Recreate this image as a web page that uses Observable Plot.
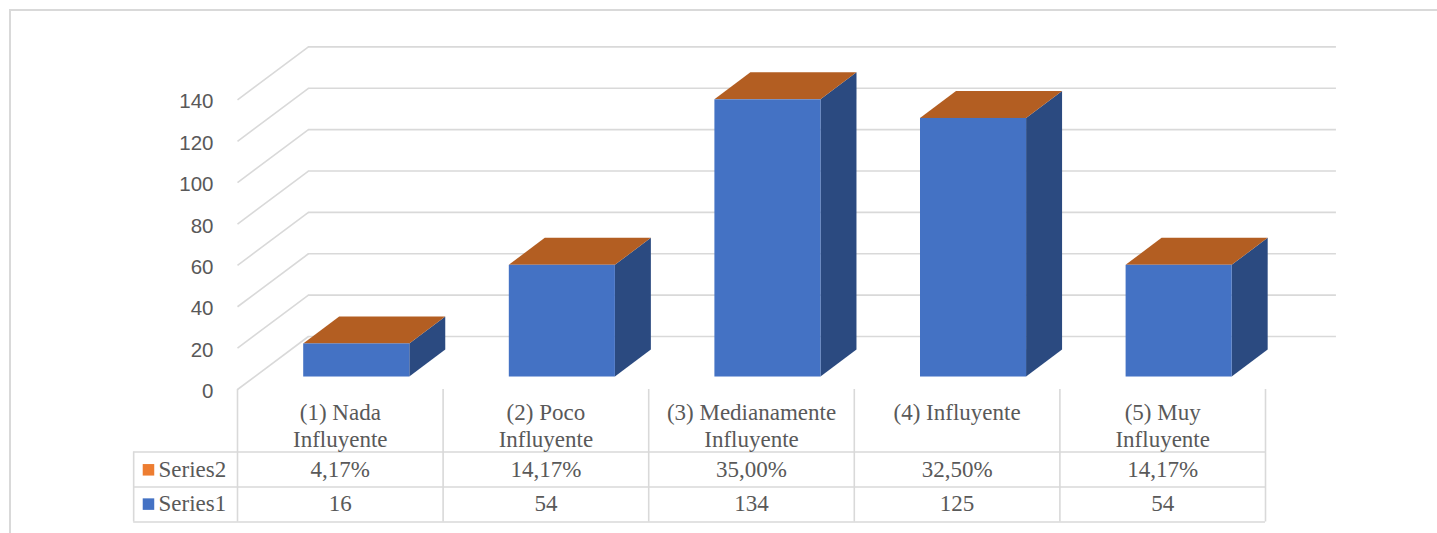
<!DOCTYPE html>
<html>
<head>
<meta charset="utf-8">
<script src="https://cdn.jsdelivr.net/npm/d3@7"></script>
<script src="https://cdn.jsdelivr.net/npm/@observablehq/plot@0.6"></script>
<style>
  html, body { margin: 0; padding: 0; background: #fff; overflow: hidden; }
  #wrap { position: relative; width: 1437px; height: 533px; }
  #border { position: absolute; left: 9px; top: 9px; width: 2000px; height: 2000px;
            border-left: 2px solid #d9d9d9; border-top: 2px solid #d9d9d9; }
  #chart { position: absolute; left: 0; top: 0; }
</style>
</head>
<body>
<div id="wrap"><div id="border"></div><div id="chart"></div></div>
<script>
// ---- data ----
const categories = ["(1) Nada\nInfluyente", "(2) Poco\nInfluyente", "(3) Medianamente\nInfluyente", "(4) Influyente", "(5) Muy\nInfluyente"];
const series1 = [16, 54, 134, 125, 54];
const series2 = [4.17, 14.17, 35.00, 32.50, 14.17];
const seriesNames = ["Series2", "Series1"];
const yTicks = [0, 20, 40, 60, 80, 100, 120, 140];

// ---- colours ----
const C_FRONT = "#4472C4", C_SIDE = "#2B4A80", C_TOP = "#B35E22", C_S2 = "#ED7D31";
const C_GRID = "#d9d9d9", C_TEXT = "#595959";

// ---- 3D projection (in scale units) ----
const BACK = {dx: 0.345, dy: 25.62};          // back wall offset
const BAR = {off: 0.08, half: 0.258, base: 6.04, ddx: 0.175, ddy: 13.05};

const idx = categories.map((_, i) => i);
const fmtPct = v => v.toFixed(2).replace(".", ",") + "%";

const bars = idx.map(i => ({i, v: series1[i]}));
const topFaces = bars.flatMap(({i, v}) => [
  {i, y: BAR.base + v, x1: i + BAR.off - BAR.half, x2: i + BAR.off + BAR.half},
  {i, y: BAR.base + v + BAR.ddy, x1: i + BAR.off - BAR.half + BAR.ddx, x2: i + BAR.off + BAR.half + BAR.ddx}
]);
const sideFaces = bars.flatMap(({i, v}) => [
  {i, x: i + BAR.off + BAR.half, y1: BAR.base, y2: BAR.base + v},
  {i, x: i + BAR.off + BAR.half + BAR.ddx, y1: BAR.base + BAR.ddy, y2: BAR.base + BAR.ddy + v}
]);

// table layout (scale units below the floor)
const T = {hdr: -5.6, r2: -38.82, r1: -55.4, lines: [-30.21, -47.13, -64.05], left: -1.005, sq: -0.933, lbl: -0.884};
const bounds = d3.range(-0.5, categories.length, 1);
const SERIF = "Liberation Serif, Times New Roman, serif";

const plot = Plot.plot({
  width: 1437, height: 533,
  marginLeft: 237, marginTop: 0, marginRight: 0, marginBottom: 0,
  x: {domain: [-0.5, 4.5], range: [237, 1265], axis: null},
  y: {domain: [-64.05, 170], range: [521.5, 37.34], axis: null},
  marks: [
    // back wall gridlines
    Plot.ruleY(yTicks, {y: d => d + BACK.dy, x1: -0.5 + BACK.dx, x2: 4.5 + BACK.dx, stroke: C_GRID, strokeWidth: 1.6}),
    // side wall diagonals
    Plot.link(yTicks, {x1: -0.5, y1: d => d, x2: -0.5 + BACK.dx, y2: d => d + BACK.dy, stroke: C_GRID, strokeWidth: 1.6}),
    // y axis labels
    Plot.axisY(yTicks, {tickSize: 0, tickPadding: 24, dy: 2, fontSize: 20.5, fontFamily: "Liberation Sans, Arial, sans-serif", fill: C_TEXT, color: C_TEXT}),
    // bars: side, top, front
    Plot.areaY(sideFaces, {x: "x", y1: "y1", y2: "y2", z: "i", fill: C_SIDE}),
    Plot.areaX(topFaces, {y: "y", x1: "x1", x2: "x2", z: "i", fill: C_TOP}),
    Plot.rect(bars, {x1: d => d.i + BAR.off - BAR.half, x2: d => d.i + BAR.off + BAR.half, y1: BAR.base, y2: d => BAR.base + d.v, fill: C_FRONT}),
    // data table grid
    Plot.ruleX(bounds, {x: d => d, y1: 0, y2: T.lines[2], stroke: C_GRID, strokeWidth: 1.6}),
    Plot.ruleY(T.lines, {y: d => d, x1: T.left, x2: 4.5, stroke: C_GRID, strokeWidth: 1.6}),
    Plot.ruleX([T.left], {x: d => d, y1: T.lines[0], y2: T.lines[2], stroke: C_GRID, strokeWidth: 1.6}),
    // header
    Plot.text(idx, {x: d => d, y: T.hdr, text: d => categories[d], lineAnchor: "top", lineHeight: 1.16, fontSize: 23, fontFamily: SERIF, fill: C_TEXT}),
    // rows
    Plot.text(idx, {x: d => d, y: T.r2, text: d => fmtPct(series2[d]), fontSize: 23, fontFamily: SERIF, fill: C_TEXT}),
    Plot.text(idx, {x: d => d, y: T.r1, text: d => String(series1[d]), fontSize: 23, fontFamily: SERIF, fill: C_TEXT}),
    // legend keys
    Plot.dot(seriesNames, {x: T.sq, y: (d, i) => i === 0 ? T.r2 : T.r1, symbol: "square", r: 6.5, fill: (d, i) => i === 0 ? C_S2 : C_FRONT, stroke: "none"}),
    Plot.text(seriesNames, {x: T.lbl, y: (d, i) => i === 0 ? T.r2 : T.r1, text: d => d, textAnchor: "start", fontSize: 23, fontFamily: SERIF, fill: C_TEXT})
  ]
});
document.getElementById("chart").appendChild(plot);
</script>
</body>
</html>
